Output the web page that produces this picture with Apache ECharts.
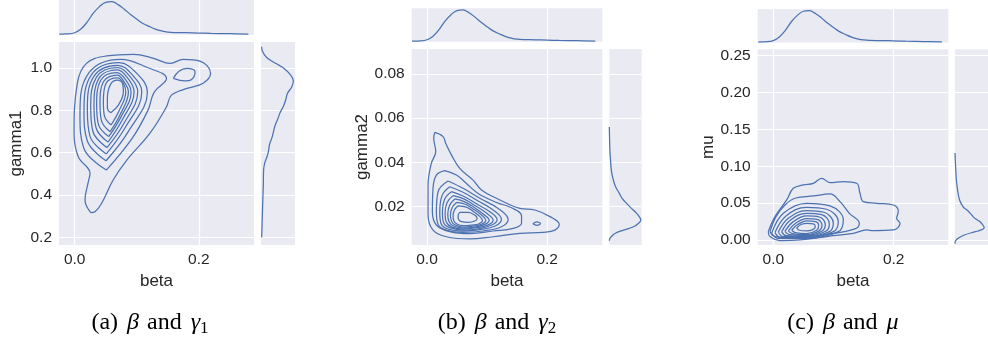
<!DOCTYPE html>
<html>
<head>
<meta charset="utf-8">
<script src="https://cdn.jsdelivr.net/npm/echarts@6/dist/echarts.min.js"></script>
<style>
  html, body { margin: 0; padding: 0; background: #fff; }
  #chart { width: 988px; height: 343px; }
</style>
</head>
<body>
<div id="chart"></div>
<script>
// --- marginal densities (peak ~ 1) ---
var betaGrid = [-0.025, -0.02, -0.01, 0, 0.01, 0.02, 0.03, 0.04, 0.05, 0.06, 0.07, 0.08, 0.09, 0.10, 0.11, 0.12, 0.13, 0.14, 0.15, 0.16, 0.18, 0.20, 0.22, 0.25, 0.28];
var betaDensity = [0.005, 0.01, 0.015, 0.05, 0.16, 0.37, 0.64, 0.84, 0.97, 0.99, 0.90, 0.76, 0.60, 0.46, 0.33, 0.24, 0.16, 0.105, 0.07, 0.055, 0.05, 0.04, 0.03, 0.02, 0.01];

var gamma1Grid = [0.2, 0.25, 0.3, 0.35, 0.4, 0.45, 0.52, 0.55, 0.58, 0.61, 0.64, 0.67, 0.70, 0.73, 0.76, 0.79, 0.82, 0.85, 0.88, 0.91, 0.94, 0.97, 1.0, 1.02, 1.05, 1.08, 1.1];
var gamma1Density = [0.0, 0.01, 0.02, 0.03, 0.04, 0.05, 0.06, 0.09, 0.16, 0.21, 0.24, 0.31, 0.36, 0.41, 0.49, 0.56, 0.66, 0.73, 0.78, 0.91, 0.96, 0.86, 0.66, 0.45, 0.15, 0.02, 0.0];

var gamma2Grid = [0.0046, 0.0057, 0.0065, 0.0079, 0.0094, 0.0109, 0.0125, 0.014, 0.0155, 0.017, 0.019, 0.0215, 0.0235, 0.026, 0.029, 0.032, 0.036, 0.041, 0.045, 0.05, 0.056];
var gamma2Density = [0.0, 0.02, 0.07, 0.18, 0.45, 0.77, 0.93, 1.0, 0.95, 0.87, 0.72, 0.55, 0.42, 0.32, 0.2, 0.13, 0.07, 0.04, 0.02, 0.01, 0.0];

var muGrid = [-0.005, -0.001, 0.0023, 0.0068, 0.0113, 0.013, 0.0167, 0.02, 0.025, 0.03, 0.035, 0.04, 0.045, 0.054, 0.065, 0.08, 0.10, 0.118];
var muDensity = [0.0, 0.02, 0.11, 0.32, 0.70, 0.85, 1.0, 0.96, 0.85, 0.66, 0.55, 0.43, 0.28, 0.16, 0.1, 0.05, 0.02, 0.0];

// --- joint KDE contour rings, [beta, other] ---
var ringsA = [
  [[0.0258,0.3165],[0.0166,0.376],[0.022,0.463],[0.0247,0.503],[0.0058,0.581],[-0.001,0.691],[0.0042,0.928],[0.019,1.022],[0.0516,1.057],[0.0945,1.065],[0.127,1.046],[0.154,1.022],[0.175,1.041],[0.202,1.033],[0.219,0.975],[0.207,0.928],[0.181,0.904],[0.156,0.872],[0.148,0.817],[0.121,0.691],[0.084,0.565],[0.062,0.471],[0.0435,0.361],[0.0327,0.321],[0.0258,0.3165]],
  [[0.051,0.518],[0.0145,0.622],[0.0085,0.779],[0.0231,0.978],[0.0742,1.041],[0.115,1.005],[0.148,0.950],[0.128,0.885],[0.118,0.800],[0.092,0.665],[0.051,0.518]],
  [[0.0505,0.562],[0.0204,0.655],[0.0150,0.794],[0.0274,0.970],[0.0715,1.025],[0.1016,0.970],[0.1172,0.887],[0.0866,0.701],[0.0505,0.562]],
  [[0.0510,0.594],[0.0247,0.677],[0.0204,0.803],[0.0311,0.962],[0.0693,1.013],[0.0946,0.962],[0.1081,0.887],[0.0817,0.720],[0.0510,0.594]],
  [[0.0521,0.624],[0.0295,0.699],[0.0258,0.813],[0.0349,0.956],[0.0688,1.002],[0.0903,0.956],[0.1016,0.888],[0.0790,0.737],[0.0521,0.624]],
  [[0.0537,0.650],[0.0344,0.718],[0.0311,0.820],[0.0387,0.950],[0.0688,0.991],[0.0860,0.950],[0.0957,0.888],[0.0763,0.753],[0.0537,0.650]],
  [[0.0548,0.676],[0.0381,0.735],[0.0354,0.827],[0.0419,0.942],[0.0683,0.978],[0.0828,0.942],[0.0909,0.887],[0.0742,0.767],[0.0548,0.676]],
  [[0.0570,0.699],[0.0430,0.753],[0.0408,0.833],[0.0462,0.935],[0.0688,0.967],[0.0796,0.935],[0.0866,0.887],[0.0731,0.779],[0.0570,0.699]],
  [[0.0586,0.731],[0.0478,0.775],[0.0462,0.842],[0.0505,0.928],[0.0693,0.954],[0.0785,0.928],[0.0823,0.887],[0.0715,0.798],[0.0586,0.731]],
  [[0.0580,0.789],[0.0527,0.809],[0.0527,0.857],[0.0580,0.924],[0.0688,0.943],[0.0769,0.928],[0.0785,0.888],[0.0704,0.825],[0.0580,0.789]],
  [[0.159,0.951],[0.168,0.985],[0.181,0.998],[0.194,0.983],[0.188,0.945],[0.178,0.939],[0.159,0.951]]
];

var ringsB = [
  [[0.0128,0.0536],[0.0267,0.0517],[0.0311,0.0486],[0.0406,0.0434],[0.0545,0.0373],[0.0767,0.0320],[0.0906,0.0275],[0.1156,0.0238],[0.1545,0.0192],[0.1795,0.0185],[0.2045,0.0155],[0.22,0.0120],[0.2128,0.0094],[0.1934,0.0084],[0.1545,0.0079],[0.1100,0.0064],[0.0711,0.0054],[0.0323,0.0064],[0.0100,0.0094],[0.0017,0.0162],[0.0017,0.0298],[0.0072,0.0396],[0.0145,0.0449],[0.0112,0.0509],[0.0128,0.0536]],
  [[0.0295,0.0363],[0.0489,0.0343],[0.0656,0.0305],[0.0850,0.0260],[0.1156,0.0219],[0.1406,0.0195],[0.1573,0.0159],[0.1573,0.0125],[0.1434,0.0102],[0.1100,0.0090],[0.0711,0.0078],[0.0378,0.0087],[0.0156,0.0117],[0.0089,0.0177],[0.0100,0.0283],[0.0156,0.0343],[0.0295,0.0363]],
  [[0.0350,0.0316],[0.0600,0.0283],[0.0878,0.0238],[0.1184,0.0192],[0.1350,0.0143],[0.1239,0.0109],[0.0934,0.0090],[0.0600,0.0084],[0.0323,0.0094],[0.0184,0.0120],[0.0156,0.0177],[0.0184,0.0268],[0.0350,0.0316]],
  [[0.0378,0.0290],[0.0600,0.0265],[0.0850,0.0226],[0.1100,0.0185],[0.1239,0.0143],[0.1145,0.0114],[0.0878,0.0096],[0.0600,0.0090],[0.0350,0.0099],[0.0234,0.0123],[0.0212,0.0174],[0.0250,0.0250],[0.0378,0.0290]],
  [[0.0406,0.0268],[0.0600,0.0248],[0.0823,0.0213],[0.1045,0.0177],[0.1167,0.0141],[0.1078,0.0117],[0.0850,0.0100],[0.0600,0.0094],[0.0378,0.0105],[0.0278,0.0126],[0.0256,0.0171],[0.0295,0.0235],[0.0406,0.0268]],
  [[0.0434,0.0250],[0.0611,0.0235],[0.0812,0.0203],[0.0989,0.0171],[0.1100,0.0139],[0.1017,0.0118],[0.0823,0.0105],[0.0600,0.0099],[0.0406,0.0109],[0.0323,0.0129],[0.0300,0.0168],[0.0334,0.0219],[0.0434,0.0250]],
  [[0.0462,0.0235],[0.0628,0.0222],[0.0800,0.0194],[0.0945,0.0165],[0.1034,0.0139],[0.0962,0.0120],[0.0795,0.0108],[0.0600,0.0103],[0.0434,0.0114],[0.0367,0.0132],[0.0345,0.0165],[0.0378,0.0207],[0.0462,0.0235]],
  [[0.0490,0.0219],[0.0645,0.0210],[0.0789,0.0186],[0.0911,0.0161],[0.0978,0.0138],[0.0911,0.0121],[0.0767,0.0112],[0.0600,0.0108],[0.0462,0.0118],[0.0406,0.0135],[0.0389,0.0162],[0.0417,0.0195],[0.0490,0.0219]],
  [[0.0517,0.0204],[0.0656,0.0198],[0.0778,0.0177],[0.0878,0.0156],[0.0923,0.0137],[0.0867,0.0123],[0.0745,0.0117],[0.0600,0.0114],[0.0490,0.0123],[0.0445,0.0137],[0.0434,0.0159],[0.0456,0.0185],[0.0517,0.0204]],
  [[0.0545,0.0174],[0.0684,0.0174],[0.0795,0.0162],[0.0834,0.0147],[0.0795,0.0135],[0.0684,0.0129],[0.0573,0.0132],[0.0523,0.0144],[0.0517,0.0159],[0.0545,0.0174]],
  [[0.176,0.0123],[0.183,0.0131],[0.189,0.0124],[0.183,0.0116],[0.176,0.0123]]
];

var ringsC = [
  [[-0.0083,0.0113],[0.0028,0.0317],[0.0222,0.0543],[0.0333,0.0701],[0.0499,0.0747],[0.0665,0.0769],[0.0803,0.0837],[0.0942,0.0778],[0.1163,0.0792],[0.1385,0.0769],[0.1440,0.0633],[0.1495,0.0520],[0.1717,0.0498],[0.1994,0.0475],[0.2077,0.0385],[0.2049,0.0294],[0.2105,0.0227],[0.1994,0.0136],[0.1662,0.0127],[0.1551,0.0136],[0.1329,0.0091],[0.0886,0.0046],[0.0443,0.0001],[0.0111,-0.0008],[-0.0055,0.0046],[-0.0083,0.0113]],
  [[-0.0055,0.0113],[0.0045,0.0317],[0.0194,0.0475],[0.0360,0.0566],[0.0665,0.0597],[0.0942,0.0624],[0.1108,0.0520],[0.1263,0.0362],[0.1429,0.0227],[0.1357,0.0150],[0.0886,0.0077],[0.0388,0.0032],[0.0028,0.0046],[-0.0055,0.0113]],
  [[-0.0027,0.0091],[0.0167,0.0362],[0.0554,0.0498],[0.0942,0.0462],[0.1163,0.0272],[0.1080,0.0113],[0.0554,0.0023],[0.0084,0.0023],[-0.0027,0.0091]],
  [[0.0028,0.0100],[0.0211,0.0326],[0.0554,0.0444],[0.0886,0.0417],[0.1080,0.0249],[0.0997,0.0113],[0.0554,0.0032],[0.0122,0.0032],[0.0028,0.0100]],
  [[0.0084,0.0109],[0.0250,0.0294],[0.0554,0.0398],[0.0842,0.0376],[0.0997,0.0227],[0.0931,0.0113],[0.0554,0.0046],[0.0167,0.0046],[0.0084,0.0109]],
  [[0.0139,0.0113],[0.0288,0.0272],[0.0554,0.0362],[0.0803,0.0344],[0.0931,0.0218],[0.0870,0.0118],[0.0554,0.0055],[0.0211,0.0059],[0.0139,0.0113]],
  [[0.0194,0.0118],[0.0333,0.0249],[0.0554,0.0326],[0.0765,0.0312],[0.0864,0.0209],[0.0814,0.0123],[0.0554,0.0064],[0.0266,0.0073],[0.0194,0.0118]],
  [[0.0250,0.0123],[0.0371,0.0227],[0.0554,0.0290],[0.0731,0.0281],[0.0809,0.0199],[0.0765,0.0127],[0.0554,0.0073],[0.0316,0.0086],[0.0250,0.0123]],
  [[0.0305,0.0132],[0.0405,0.0209],[0.0554,0.0258],[0.0698,0.0249],[0.0754,0.0195],[0.0720,0.0132],[0.0554,0.0086],[0.0366,0.0100],[0.0305,0.0132]],
  [[0.0388,0.0163],[0.0471,0.0213],[0.0565,0.0227],[0.0665,0.0218],[0.0698,0.0181],[0.0654,0.0141],[0.0554,0.0123],[0.0432,0.0132],[0.0388,0.0163]]
];

// --- ticks and labels ---
var xTicks = [0.0, 0.2];
var yTicksA = [0.2, 0.4, 0.6, 0.8, 1.0];
var yTicksB = [0.02, 0.04, 0.06, 0.08];
var yTicksC = [0.00, 0.05, 0.10, 0.15, 0.20, 0.25];
var yNames = ['gamma1', 'gamma2', 'mu'];

var line = '#4C72B0';
var bg = '#EAEAF2';
var ink = '#262626';
var sans = 'Liberation Sans, Arial, sans-serif';
var serif = 'Liberation Serif, serif';

var grids = [], xAxes = [], yAxes = [], series = [];

function lineSeries(gi, data) {
  return {
    type: 'line', xAxisIndex: gi, yAxisIndex: gi, data: data,
    smooth: 0.4, symbol: 'none', silent: true,
    lineStyle: { color: line, width: 1.25 }
  };
}

function panel(p) {
  var gi = grids.length;
  var splitStyle = { show: true, lineStyle: { color: '#ffffff', width: 1.2 } };
  // main
  grids.push({ left: p.main[0], top: p.main[1], width: p.main[2], height: p.main[3],
    show: true, backgroundColor: bg, borderWidth: 0 });
  xAxes.push({ gridIndex: gi, type: 'value', min: p.x[0], max: p.x[1],
    axisLine: { show: false }, axisTick: { show: false, customValues: xTicks },
    axisLabel: { customValues: xTicks, color: ink, fontSize: 15.5, fontFamily: sans, margin: 7,
      formatter: function(v) { return v.toFixed(1); } },
    splitLine: splitStyle,
    name: 'beta', nameLocation: 'middle', nameGap: 24,
    nameTextStyle: { color: ink, fontSize: 17, fontFamily: sans } });
  yAxes.push({ gridIndex: gi, type: 'value', min: p.y[0], max: p.y[1],
    axisLine: { show: false }, axisTick: { show: false, customValues: p.yTicks },
    axisLabel: { customValues: p.yTicks, color: ink, fontSize: 15.5, fontFamily: sans, margin: 7,
      formatter: function(v) { return v.toFixed(p.dec); } },
    splitLine: splitStyle,
    name: p.yName, nameLocation: 'middle', nameGap: p.nameGap,
    nameTextStyle: { color: ink, fontSize: 17, fontFamily: sans } });
  p.rings.forEach(function(r) { series.push(lineSeries(gi, r)); });

  // top marginal
  grids.push({ left: p.top[0], top: p.top[1], width: p.top[2], height: p.top[3],
    show: true, backgroundColor: bg, borderWidth: 0 });
  xAxes.push({ gridIndex: gi + 1, type: 'value', min: p.x[0], max: p.x[1],
    axisLine: { show: false }, axisTick: { show: false, customValues: xTicks },
    axisLabel: { show: false, customValues: xTicks }, splitLine: splitStyle });
  yAxes.push({ gridIndex: gi + 1, type: 'value', min: -0.01, max: 1.04, show: false, splitLine: { show: false } });
  series.push(lineSeries(gi + 1, betaGrid.map(function(b, i) { return [b, betaDensity[i]]; })));

  // right marginal
  grids.push({ left: p.right[0], top: p.right[1], width: p.right[2], height: p.right[3],
    show: true, backgroundColor: bg, borderWidth: 0 });
  xAxes.push({ gridIndex: gi + 2, type: 'value', min: p.dx[0], max: p.dx[1], show: false, splitLine: { show: false } });
  yAxes.push({ gridIndex: gi + 2, type: 'value', min: p.y[0], max: p.y[1],
    axisLine: { show: false }, axisTick: { show: false, customValues: p.yTicks },
    axisLabel: { show: false, customValues: p.yTicks }, splitLine: splitStyle });
  series.push(lineSeries(gi + 2, p.mGrid.map(function(g, i) { return [p.mDens[i], g]; })));
}

panel({ main: [59, 42, 195, 203], top: [59, 0, 195, 34.7], right: [261, 42, 34, 203],
  x: [-0.0253, 0.289], y: [0.164, 1.123], yTicks: yTicksA, dec: 1, yName: yNames[0], nameGap: 34,
  rings: ringsA, mGrid: gamma1Grid, mDens: gamma1Density, dx: [-0.02, 1.01] });
panel({ main: [411.7, 49, 190.6, 196], top: [411.7, 8.3, 190.6, 33.4], right: [609.3, 49, 32.4, 196],
  x: [-0.0255, 0.2917], y: [0.00267, 0.0913], yTicks: yTicksB, dec: 2, yName: yNames[1], nameGap: 38,
  rings: ringsB, mGrid: gamma2Grid, mDens: gamma2Density, dx: [0, 1.03] });
panel({ main: [757.7, 49.3, 190.6, 195.7], top: [757.7, 9, 190.6, 33.5], right: [955, 49.3, 35, 195.7],
  x: [-0.0259, 0.2907], y: [-0.0068, 0.2587], yTicks: yTicksC, dec: 2, yName: yNames[2], nameGap: 41,
  rings: ringsC, mGrid: muGrid, mDens: muDensity, dx: [0, 1.13] });

// captions under each sub-figure
var capRich = {
  sp: { fontFamily: serif, fontSize: 24, color: '#111', padding: [0, 3, 0, 0] },
  b: { fontFamily: serif, fontSize: 24, fontStyle: 'italic', color: '#111', padding: [0, 2, 0, 0] },
  i: { fontFamily: serif, fontSize: 24, fontStyle: 'italic', color: '#111' },
  s: { fontFamily: serif, fontSize: 17, color: '#111', padding: [11, 0, 0, 0] }
};
var captions = [
  { x: 150, text: '{sp|(a) }{b|β}{sp| and }{i|γ}{s|1}' },
  { x: 497, text: '{sp|(b) }{b|β}{sp| and }{i|γ}{s|2}' },
  { x: 843, text: '{sp|(c) }{b|β}{sp| and }{i|μ}' }
];

var chart = echarts.init(document.getElementById('chart'), null, { renderer: 'canvas' });
chart.setOption({
  animation: false,
  backgroundColor: '#ffffff',
  grid: grids,
  xAxis: xAxes,
  yAxis: yAxes,
  series: series,
  graphic: captions.map(function(c) {
    return { type: 'text', x: c.x, y: 323, silent: true,
      style: { text: c.text, rich: capRich, align: 'center', verticalAlign: 'middle' } };
  })
});
window.addEventListener('resize', function() { chart.resize(); });
</script>
</body>
</html>
